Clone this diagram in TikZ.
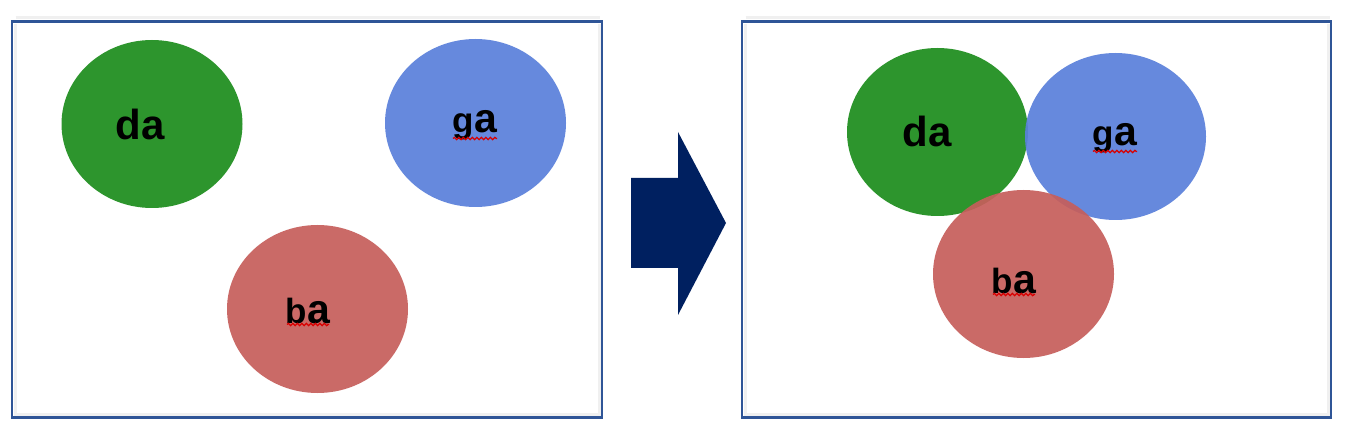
\documentclass[tikz,border=0pt]{standalone}
\usepackage{fontspec}
\setmainfont{Liberation Sans}
\usetikzlibrary{decorations.pathmorphing}
\definecolor{framec}{HTML}{2F5597}
\definecolor{gfill}{RGB}{28,141,28}
\definecolor{bfill}{RGB}{90,128,219}
\definecolor{rfill}{RGB}{198,94,91}
\definecolor{arrowc}{HTML}{002060}
\definecolor{shadowc}{HTML}{F0F0F0}
\tikzset{
  frame/.style={draw=framec, line width=2.3pt},
  shadowline/.style={draw=shadowc, line width=3pt},
  blob/.style={fill opacity=0.92, draw=none},
  lbl/.style={font=\bfseries, text=black, inner sep=0pt},
  wavy/.style={draw=red!85!black, line width=1.2pt, decorate, decoration={snake, amplitude=1.2pt, segment length=4.5pt}}
}
\newcommand{\bigda}{\fontsize{42}{48}\selectfont da}
\newcommand{\smallga}{{\fontsize{35}{40}\selectfont g}{\fontsize{41}{46}\selectfont a}}
\newcommand{\smallba}{{\fontsize{35}{40}\selectfont b}{\fontsize{41}{46}\selectfont a}}
\begin{document}
\begin{tikzpicture}[x=1pt,y=-1pt]
\useasboundingbox (0,0) rectangle (1348,435);
\fill[white] (0,0) rectangle (1348,435);
% shadows
\draw[shadowline] (15.5,18) -- (600,18);
\draw[shadowline] (15.5,24) -- (15.5,414.5) -- (599,414.5) -- (599,24);
\draw[shadowline] (745.5,18) -- (1330,18);
\draw[shadowline] (745.5,24) -- (745.5,414.5) -- (1328,414.5) -- (1328,24);
% frames
\node[frame, minimum width=590pt, minimum height=396pt, inner sep=0pt] (lf) at (307,219.5) {};
\node[frame, minimum width=589pt, minimum height=396pt, inner sep=0pt] (rf) at (1036.5,219.5) {};
% left blobs
\fill[gfill, blob] (152,124) ellipse [x radius=90.5, y radius=84];
\fill[bfill, blob] (475.5,123) ellipse [x radius=90.5, y radius=84];
\fill[rfill, blob] (317.5,309) ellipse [x radius=90.5, y radius=84];
\node[lbl] (da1) at (140,124) {\bigda};
\node[lbl] (ga1) at (475,125) {\smallga};
\node[lbl] (ba1) at (308,311) {\smallba};
\draw[wavy] (453,138.5) -- (497,138.5);
\draw[wavy] (287,324.5) -- (329,324.5);
% arrow
\fill[arrowc] (631,178) -- (678,178) -- (678,132) -- (726,223) -- (678,315) -- (678,268) -- (631,268) -- cycle;
% right blobs
\fill[gfill, blob] (937.5,132) ellipse [x radius=90.5, y radius=84];
\fill[bfill, blob] (1115.5,136.5) ellipse [x radius=90.5, y radius=83.5];
\fill[rfill, blob] (1023.5,274) ellipse [x radius=90.5, y radius=84];
\node[lbl] (da2) at (927,131) {\bigda};
\node[lbl] (ga2) at (1115,138) {\smallga};
\node[lbl] (ba2) at (1014,281) {\smallba};
\draw[wavy] (1093,151.5) -- (1137,151.5);
\draw[wavy] (993,294.5) -- (1035,294.5);
\end{tikzpicture}
\end{document}
